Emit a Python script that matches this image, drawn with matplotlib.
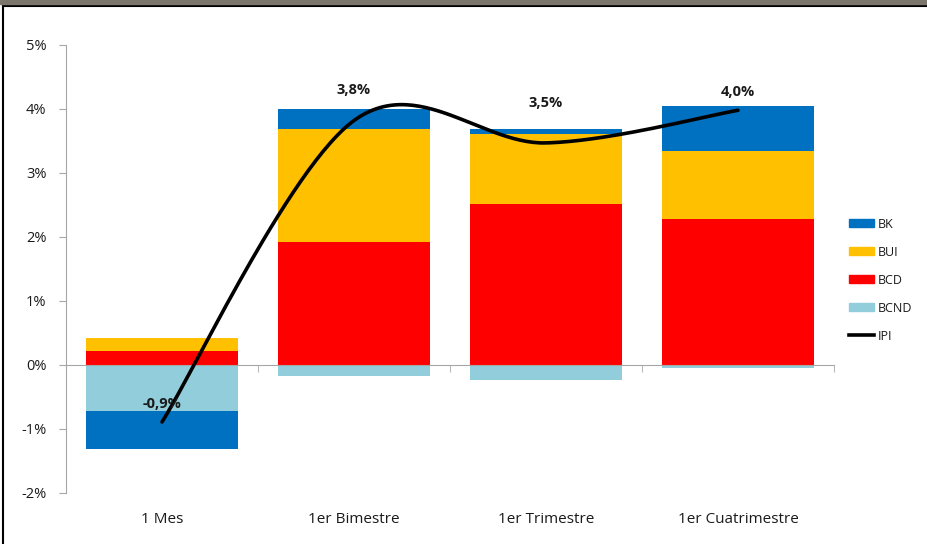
import numpy as np
import matplotlib
matplotlib.use("Agg")
import matplotlib.pyplot as plt
from matplotlib.patches import Patch, Rectangle
from matplotlib.lines import Line2D

plt.rcParams['font.family'] = ['Open Sans', 'DejaVu Sans']

categories = ["1 Mes", "1er Bimestre", "1er Trimestre", "1er Cuatrimestre"]
bk = [-0.59, 0.31, 0.08, 0.71]
bui = [0.20, 1.77, 1.09, 1.06]
bcd = [0.22, 1.92, 2.52, 2.28]
bcnd = [-0.72, -0.17, -0.23, -0.05]
ipi = [-0.89, 3.82, 3.47, 3.98]
ipi_labels = ["-0,9%", "3,8%", "3,5%", "4,0%"]
label_y = [-0.61, 4.30, 4.09, 4.27]
yticks = [-2, -1, 0, 1, 2, 3, 4, 5]

colors = {"BK": "#0070C0", "BUI": "#FFC000", "BCD": "#FF0000", "BCND": "#92CDDC"}
series = {"BK": bk, "BUI": bui, "BCD": bcd, "BCND": bcnd}
order = ["BCND", "BCD", "BUI", "BK"]


def smooth(xs, ys, n=60):
    """Catmull-Rom spline through the points (Excel-style smoothed line)."""
    xs = np.asarray(xs, float)
    ys = np.asarray(ys, float)
    px = np.concatenate([[xs[0]], xs, [xs[-1]]])
    py = np.concatenate([[ys[0]], ys, [ys[-1]]])
    out_x, out_y = [], []
    for i in range(1, len(px) - 2):
        t = np.linspace(0, 1, n)
        m0x = (px[i + 1] - px[i - 1]) / 2
        m1x = (px[i + 2] - px[i]) / 2
        m0y = (py[i + 1] - py[i - 1]) / 2
        m1y = (py[i + 2] - py[i]) / 2
        h00 = 2 * t**3 - 3 * t**2 + 1
        h10 = t**3 - 2 * t**2 + t
        h01 = -2 * t**3 + 3 * t**2
        h11 = t**3 - t**2
        out_x.append(h00 * px[i] + h10 * m0x + h01 * px[i + 1] + h11 * m1x)
        out_y.append(h00 * py[i] + h10 * m0y + h01 * py[i + 1] + h11 * m1y)
    return np.concatenate(out_x), np.concatenate(out_y)


W, H = 928, 544
fig = plt.figure(figsize=(W / 100, H / 100), dpi=100)
ax = fig.add_axes([66 / W, 1 - 493 / H, 768 / W, 448 / H])

x = np.arange(len(categories))
width = 0.79
pos_base = np.zeros(len(x))
neg_base = np.zeros(len(x))
for name in order:
    vals = np.asarray(series[name])
    bottoms = np.where(vals >= 0, pos_base, neg_base)
    ax.bar(x, vals, width, bottom=bottoms, color=colors[name], zorder=2)
    pos_base = np.where(vals >= 0, pos_base + vals, pos_base)
    neg_base = np.where(vals < 0, neg_base + vals, neg_base)

sx, sy = smooth(x, ipi)
ax.plot(sx, sy, color="black", lw=2.6, zorder=4, solid_capstyle="round")

for xi, ly, txt in zip(x, label_y, ipi_labels):
    ax.text(xi, ly, txt, ha="center", va="center", fontsize=10.5,
            fontweight="bold", color="#1A1A1A", zorder=5)

ax.set_xlim(-0.5, len(categories) - 0.5)
ax.set_ylim(-2, 5)
ax.set_yticks(yticks)
ax.set_yticklabels([f"{v}%" for v in yticks])
ax.tick_params(axis="y", direction="out", length=5, color="#A6A6A6",
               labelsize=10.5, labelcolor="#1A1A1A", pad=9)

ax.spines["top"].set_visible(False)
ax.spines["right"].set_visible(False)
ax.spines["left"].set_color("#A6A6A6")
ax.spines["bottom"].set_color("#A6A6A6")
ax.spines["bottom"].set_position(("data", 0))
ax.spines["bottom"].set_zorder(3)

ax.set_xticks(x)
ax.set_xticklabels(categories)
ax.set_xticks(np.arange(-0.5, len(categories) + 0.5, 1)[1:], minor=True)
ax.tick_params(axis="x", which="major", length=0, labelsize=11,
               labelcolor="#1A1A1A", pad=106)
ax.tick_params(axis="x", which="minor", length=5, direction="out",
               color="#A6A6A6")

handles = [Patch(color=colors[n], label=n) for n in ["BK", "BUI", "BCD", "BCND"]]
handles.append(Line2D([], [], color="black", lw=2.6, label="IPI"))
leg = ax.legend(handles=handles, loc="center left",
                bbox_to_anchor=(838 / W, 1 - 280 / H),
                bbox_transform=fig.transFigure, frameon=False,
                fontsize=9, handlelength=2.0, handleheight=0.6,
                handletextpad=0.25, labelspacing=1.2)
for t in leg.get_texts():
    t.set_color("#1A1A1A")

# frame around the chart
fig.add_artist(Rectangle((0, 1 - 4 / H), 1, 4 / H, transform=fig.transFigure,
                         color="#7B766C", zorder=10))
fig.add_artist(Line2D([3 / W, 1], [1 - 6 / H, 1 - 6 / H], transform=fig.transFigure,
                      color="black", lw=1.5))
fig.add_artist(Line2D([3 / W, 3 / W], [0, 1 - 6 / H], transform=fig.transFigure,
                      color="black", lw=1.5))

fig.savefig("out.png", dpi=100)
